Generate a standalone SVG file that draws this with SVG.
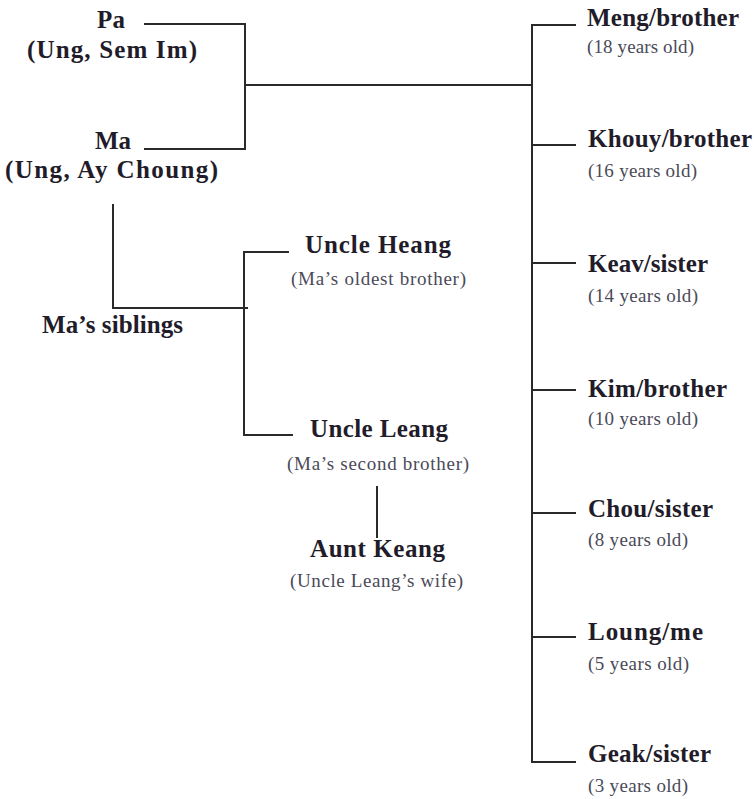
<svg xmlns="http://www.w3.org/2000/svg" width="754" height="799" viewBox="0 0 754 799">
<style>
.bg{fill:#ffffff}
.name{font-family:"Liberation Serif","Times New Roman",Times,serif;font-weight:700;font-size:25px;fill:#221c2a}
.sub{font-family:"Liberation Serif","Times New Roman",Times,serif;font-weight:400;font-size:19px;fill:#4a4a58}
.mid{text-anchor:middle}
.conn{fill:none;stroke:#2a2a2a;stroke-width:2;stroke-linecap:square}
</style>
<rect class="bg" x="0" y="0" width="754" height="799"/>
<g id="connectors">
<path class="conn" d="M145 24 H245 V149 H145"/>
<path class="conn" d="M245 85 H532"/>
<path class="conn" d="M532 25 V762"/>
<path class="conn" d="M532 25 H575 M532 145 H575 M532 263 H575 M532 390 H575 M532 513 H575 M532 637 H575 M532 762 H575"/>
<path class="conn" d="M113 205 V308 H247"/>
<path class="conn" d="M288 252 H244 V435 H292"/>
<path class="conn" d="M377 487 V537"/>
</g>
<g id="pa">
<text class="name mid" x="111" y="28">Pa</text>
<text class="name mid" x="112" y="58" textLength="170">(Ung, Sem Im)</text>
</g>
<g id="ma">
<text class="name mid" x="113" y="149">Ma</text>
<text class="name mid" x="111.5" y="178" textLength="213">(Ung, Ay Choung)</text>
</g>
<g id="ma-siblings">
<text class="name mid" x="112.5" y="333" textLength="141">Ma’s siblings</text>
</g>
<g id="uncle-heang">
<text class="name mid" x="378" y="253" textLength="146">Uncle Heang</text>
<text class="sub mid" x="378.5" y="285" textLength="175">(Ma’s oldest brother)</text>
</g>
<g id="uncle-leang">
<text class="name mid" x="379" y="437" textLength="138">Uncle Leang</text>
<text class="sub mid" x="378" y="470" textLength="182">(Ma’s second brother)</text>
</g>
<g id="aunt-keang">
<text class="name mid" x="377.5" y="557" textLength="135">Aunt Keang</text>
<text class="sub mid" x="376.5" y="587" textLength="173">(Uncle Leang’s wife)</text>
</g>
<g id="meng">
<text class="name" x="587" y="26" textLength="152">Meng/brother</text>
<text class="sub" x="587" y="53" textLength="107">(18 years old)</text>
</g>
<g id="khouy">
<text class="name" x="588" y="147" textLength="164">Khouy/brother</text>
<text class="sub" x="588" y="177" textLength="109">(16 years old)</text>
</g>
<g id="keav">
<text class="name" x="588" y="272" textLength="120">Keav/sister</text>
<text class="sub" x="588" y="302" textLength="110">(14 years old)</text>
</g>
<g id="kim">
<text class="name" x="588" y="397" textLength="139">Kim/brother</text>
<text class="sub" x="588" y="425" textLength="110">(10 years old)</text>
</g>
<g id="chou">
<text class="name" x="588" y="517" textLength="125">Chou/sister</text>
<text class="sub" x="588" y="546" textLength="100">(8 years old)</text>
</g>
<g id="loung">
<text class="name" x="588" y="640" textLength="115">Loung/me</text>
<text class="sub" x="588" y="670" textLength="101">(5 years old)</text>
</g>
<g id="geak">
<text class="name" x="588" y="762" textLength="123">Geak/sister</text>
<text class="sub" x="588" y="792" textLength="100">(3 years old)</text>
</g>
</svg>
